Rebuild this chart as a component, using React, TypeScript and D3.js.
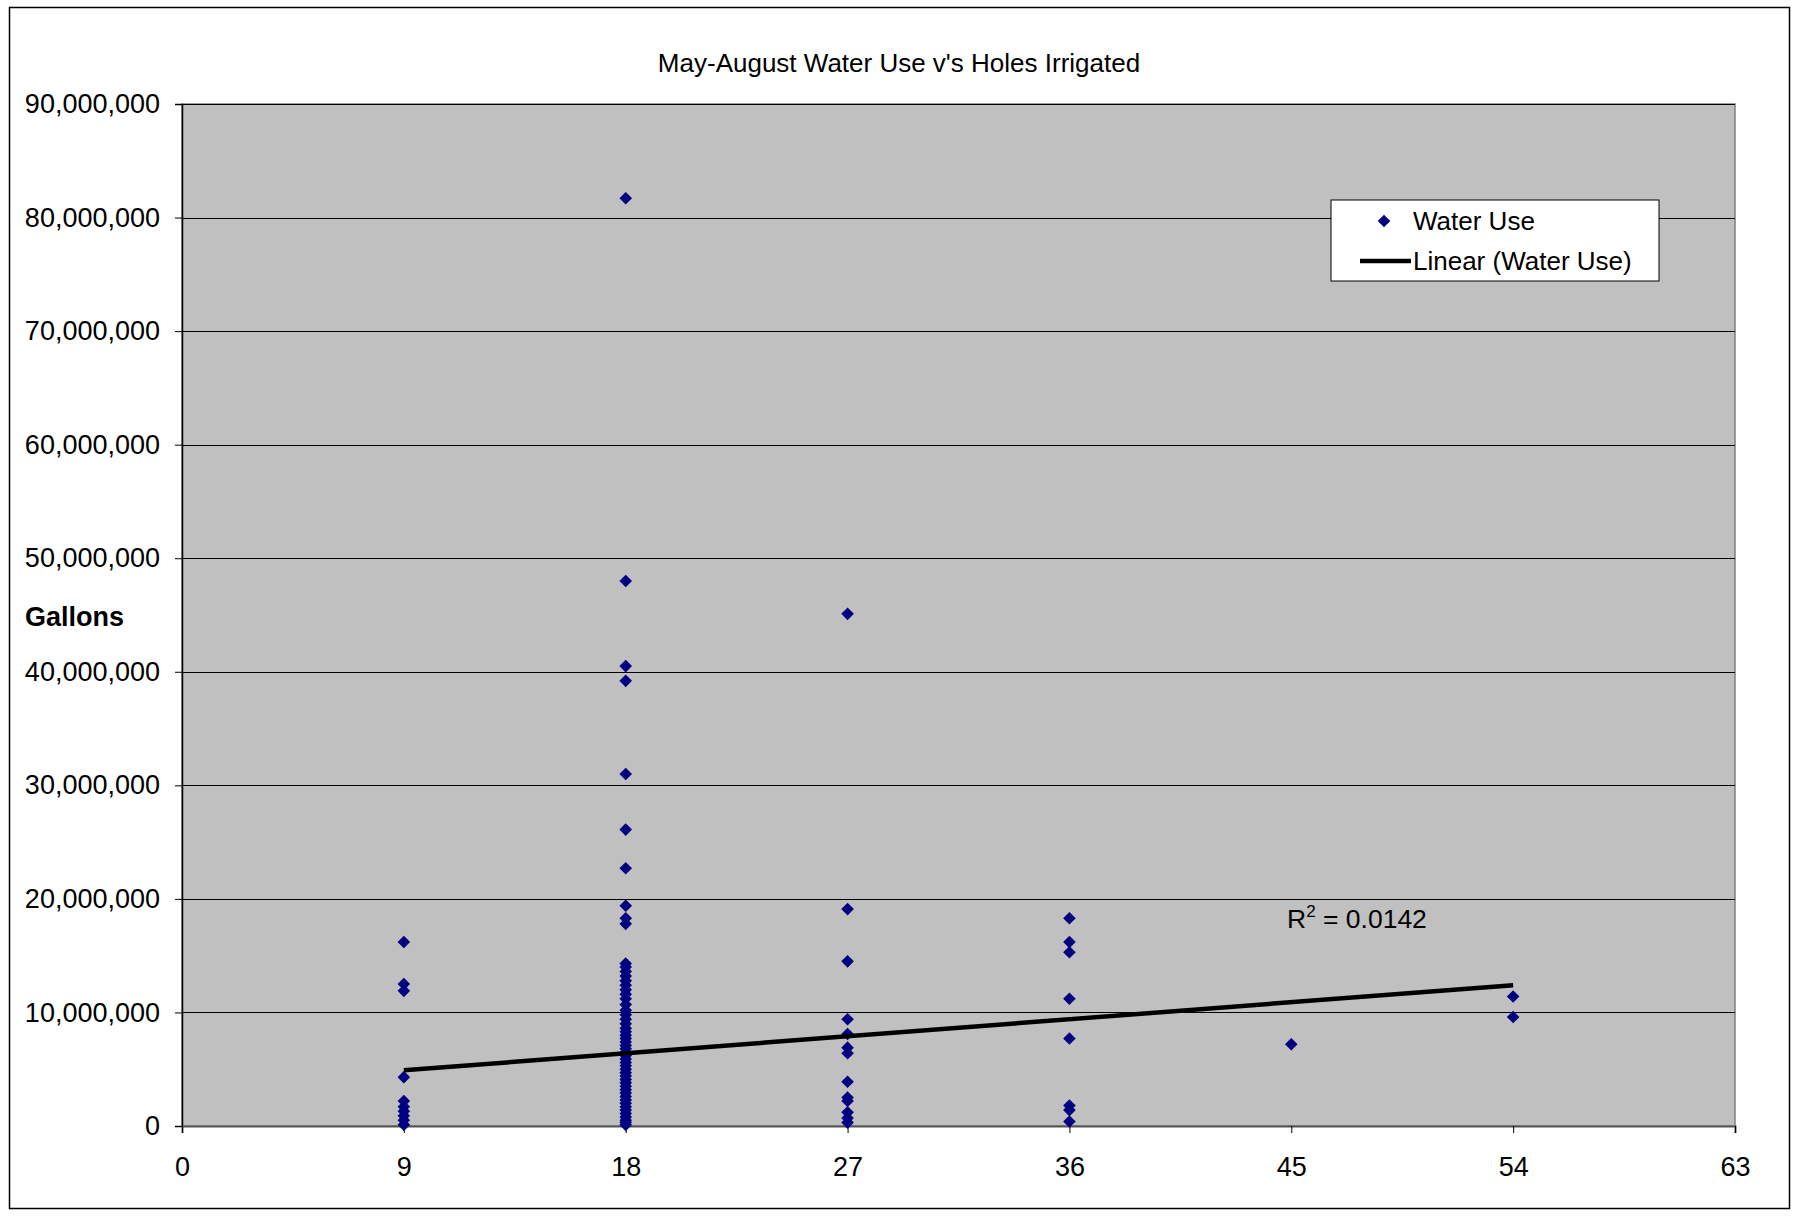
import React, { useEffect, useRef } from "react";
import * as d3 from "d3";

// water use per course, in millions of gallons, grouped by holes irrigated
const holeCounts = [9, 18, 27, 36, 45, 54];
const use9 = [16.2, 12.5, 11.9, 4.3, 2.2, 1.7, 1.3, 0.9, 0.5, 0.1];
const use18 = [
  81.7, 48.0, 40.5, 39.2, 31.0, 26.1, 22.7, 19.4, 18.3, 17.8, 14.3, 14.0,
  13.6, 13.2, 12.8, 12.4, 12.0, 11.6, 11.2, 10.7, 10.2, 9.8, 9.4, 9.0, 8.6,
  8.3, 8.0, 7.7, 7.4, 7.1, 6.8, 6.5, 6.2, 5.9, 5.6, 5.3, 5.0, 4.7, 4.4, 4.1,
  3.8, 3.5, 3.2, 2.9, 2.6, 2.3, 2.0, 1.7, 1.4, 1.1, 0.8, 0.5, 0.3, 0.1,
];
const use27 = [45.1, 19.1, 14.5, 9.4, 8.1, 6.9, 6.4, 3.9, 2.5, 2.2, 1.2, 0.7, 0.3];
const use36 = [18.3, 16.2, 15.3, 11.2, 7.7, 1.8, 1.4, 0.4];
const use45 = [7.2];
const use54 = [11.4, 9.6];

// linear trend (gallons at 9 and 54 holes)
const trendX = [9, 54];
const trendY = [4.9e6, 12.4e6];
const rSquared = "0.0142";

const xTicks = [0, 9, 18, 27, 36, 45, 54, 63];
const yTicks = d3.range(0, 90000001, 10000000);

const FONT = "'Liberation Sans', Arial, sans-serif";

const App = () => {
  const svgRef = useRef<SVGSVGElement>(null);

  useEffect(() => {
    const width = 1793;
    const height = 1217;
    const plot = { left: 182, right: 1735, top: 104, bottom: 1126 };

    const svg = d3.select(svgRef.current);
    svg.selectAll("*").remove();

    const x = d3.scaleLinear().domain([0, 63]).range([plot.left, plot.right]);
    const y = d3.scaleLinear().domain([0, 90000000]).range([plot.bottom, plot.top]);

    svg
      .append("rect")
      .attr("x", 0)
      .attr("y", 0)
      .attr("width", width)
      .attr("height", height)
      .attr("fill", "#fff");

    // chart border
    svg
      .append("rect")
      .attr("x", 9.5)
      .attr("y", 7.5)
      .attr("width", 1780)
      .attr("height", 1201)
      .attr("fill", "none")
      .attr("stroke", "#000")
      .attr("stroke-width", 1.5);

    // plot area
    svg
      .append("rect")
      .attr("x", plot.left)
      .attr("y", plot.top)
      .attr("width", plot.right - plot.left)
      .attr("height", plot.bottom - plot.top)
      .attr("fill", "#c0c0c0")
      .attr("stroke", "#808080")
      .attr("stroke-width", 1.5);

    // gridlines
    svg
      .append("g")
      .selectAll("line")
      .data(yTicks.filter((d) => d > 0))
      .enter()
      .append("line")
      .attr("x1", plot.left)
      .attr("x2", plot.right)
      .attr("y1", (d) => Math.round(y(d)) + 0.5)
      .attr("y2", (d) => Math.round(y(d)) + 0.5)
      .attr("stroke", "#000")
      .attr("stroke-width", 1);

    // y axis
    const yAxis = svg
      .append("g")
      .attr("transform", `translate(${plot.left},0)`)
      .call(
        d3
          .axisLeft(y)
          .tickValues(yTicks)
          .tickSize(7)
          .tickPadding(15)
          .tickFormat((d: any) => d3.format(",")(d))
      );
    yAxis.select(".domain").attr("stroke", "#000").attr("stroke-width", 1.5);
    yAxis
      .selectAll("text")
      .attr("font-family", FONT)
      .attr("font-size", 27)
      .attr("fill", "#000");

    // x axis
    const xAxis = svg
      .append("g")
      .attr("transform", `translate(0,${plot.bottom})`)
      .call(d3.axisBottom(x).tickValues(xTicks).tickSize(7).tickPadding(24));
    xAxis.select(".domain").attr("stroke", "#555").attr("stroke-width", 2);
    xAxis
      .selectAll("text")
      .attr("font-family", FONT)
      .attr("font-size", 27)
      .attr("fill", "#000");

    // points
    const groups = [use9, use18, use27, use36, use45, use54];
    const points = groups.flatMap((vals, i) =>
      vals.map((v) => ({ holes: holeCounts[i], gallons: v * 1e6 }))
    );
    const diamond = "M0,-6.3L6.3,0L0,6.3L-6.3,0Z";
    svg
      .append("g")
      .selectAll("path")
      .data(points)
      .enter()
      .append("path")
      .attr("d", diamond)
      .attr("transform", (d) => `translate(${x(d.holes)},${y(d.gallons)})`)
      .attr("fill", "#000080");

    // trend line
    const line = d3
      .line<number>()
      .x((d) => x(d))
      .y((_, i) => y(trendY[i]));
    svg
      .append("path")
      .attr("d", line(trendX))
      .attr("stroke", "#000")
      .attr("stroke-width", 4.5)
      .attr("fill", "none");

    // R squared label
    const r2 = svg
      .append("text")
      .attr("x", 1287)
      .attr("y", 928)
      .attr("font-family", FONT)
      .attr("font-size", 26.5)
      .attr("fill", "#000");
    r2.append("tspan").text("R");
    r2.append("tspan").attr("font-size", 17).attr("dy", -11).text("2");
    r2.append("tspan").attr("dy", 11).text(" = " + rSquared);

    // title
    svg
      .append("text")
      .attr("x", 899)
      .attr("y", 72)
      .attr("text-anchor", "middle")
      .attr("font-family", FONT)
      .attr("font-size", 26)
      .attr("fill", "#000")
      .text("May-August Water Use v's Holes Irrigated");

    // axis title
    svg
      .append("text")
      .attr("x", 25)
      .attr("y", 626)
      .attr("font-family", FONT)
      .attr("font-size", 27)
      .attr("font-weight", "bold")
      .attr("fill", "#000")
      .text("Gallons");

    // legend
    const lg = svg.append("g").attr("transform", "translate(1331,200)");
    lg.append("rect")
      .attr("width", 328)
      .attr("height", 81)
      .attr("fill", "#fff")
      .attr("stroke", "#000")
      .attr("stroke-width", 1);
    lg.append("path")
      .attr("d", diamond)
      .attr("transform", "translate(53,21)")
      .attr("fill", "#000080");
    lg.append("text")
      .attr("x", 82)
      .attr("y", 30)
      .attr("font-family", FONT)
      .attr("font-size", 26)
      .attr("fill", "#000")
      .text("Water Use");
    lg.append("line")
      .attr("x1", 29)
      .attr("x2", 80)
      .attr("y1", 61)
      .attr("y2", 61)
      .attr("stroke", "#000")
      .attr("stroke-width", 4.5);
    lg.append("text")
      .attr("x", 82)
      .attr("y", 70)
      .attr("font-family", FONT)
      .attr("font-size", 26)
      .attr("fill", "#000")
      .text("Linear (Water Use)");
  }, []);

  return (
    <div style={{ position: "absolute", left: 0, top: 0 }}>
      <svg ref={svgRef} width={1793} height={1217}></svg>
    </div>
  );
};

export default App;
